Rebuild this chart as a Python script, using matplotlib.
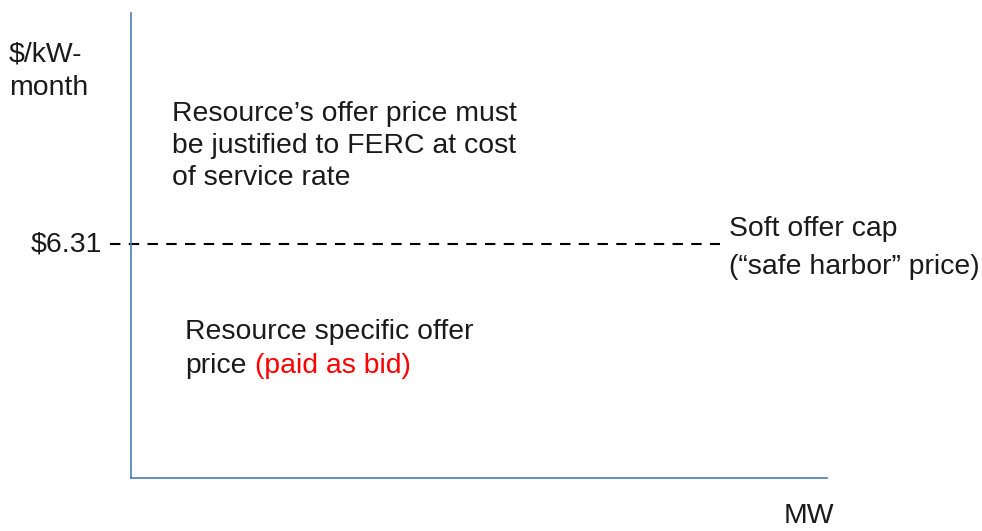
import matplotlib.pyplot as plt

plt.rcParams['font.family'] = ['Liberation Sans', 'DejaVu Sans']

# values
cap_price = 6.31
cap_label = "$6.31"
y_label = "$/kW-\nmonth"
x_label = "MW"
upper_text = "Resource\u2019s offer price must\nbe justified to FERC at cost\nof service rate"
cap_text = "Soft offer cap\n(\u201csafe harbor\u201d price)"
lower_line_1 = "Resource specific offer"
lower_line_2 = "price"
lower_text_red = "(paid as bid)"

fig = plt.figure(figsize=(9.82, 5.31), dpi=100)
ax = fig.add_axes([131 / 982, 53 / 531, 696 / 982, 465 / 531])
ax.set_xlim(0, 100)
ax.set_ylim(0, 12.54)

for s in ['top', 'right']:
    ax.spines[s].set_visible(False)
for s in ['left', 'bottom']:
    ax.spines[s].set_color('#4a7ebb')
    ax.spines[s].set_linewidth(1.2)
ax.set_xticks([])
ax.set_yticks([])

# dashed cap line, starts a bit left of the axis
ax.plot([-3.0, 84.6], [cap_price, cap_price], color='black', lw=1.5,
        dashes=(5, 4), clip_on=False)

fs = 20.4
col = '#1a1a1a'


def ftext(x, y, s, **kw):
    kw.setdefault('ha', 'left')
    kw.setdefault('va', 'center')
    kw.setdefault('fontsize', fs)
    kw.setdefault('color', col)
    fig.text(x / 982, 1 - y / 531, s, **kw)


ax.text(-4.2, cap_price, cap_label, ha='right', va='center', fontsize=fs,
        color=col)
ftext(9, 71, y_label, linespacing=1.4)
ftext(172, 146, upper_text, linespacing=1.32)
ftext(729, 248, cap_text, linespacing=1.55)
ftext(185, 332, lower_line_1)
ftext(185, 366, lower_line_2)
ftext(255, 366, lower_text_red, color='#ff0000')
ftext(809, 516, x_label, ha='center')

fig.savefig('out.png', dpi=100)
